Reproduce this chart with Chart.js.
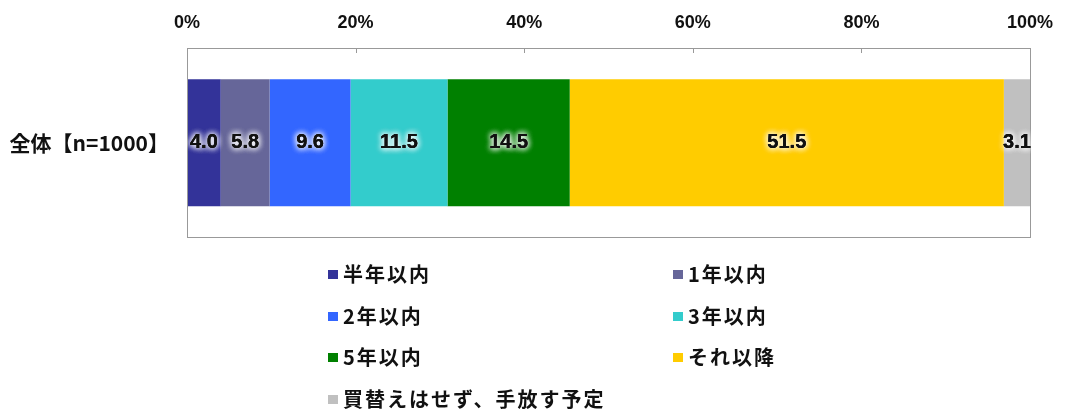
<!DOCTYPE html>
<html><head><meta charset="utf-8">
<script src="https://cdn.jsdelivr.net/npm/chart.js@4/dist/chart.umd.min.js"></script>
<style>
html,body{margin:0;padding:0;background:#fff;}
#wrap{position:relative;width:1082px;height:412px;overflow:hidden;}
#c{position:absolute;left:0;top:0;}
#legend{position:absolute;left:0;top:0;width:1082px;height:412px;pointer-events:none;}
.li{position:absolute;height:22px;line-height:22px;font:bold 20px "Noto Sans CJK JP",sans-serif;letter-spacing:2px;color:#111;white-space:nowrap;}
.li span.m{display:inline-block;width:10px;height:9px;margin-right:5px;vertical-align:middle;position:relative;top:-2px;}
</style></head>
<body><div id="wrap"><canvas id="c" width="1082" height="268"></canvas><div id="legend"></div></div>
<script>
const categories = ['全体【n=1000】'];
const seriesNames = ['半年以内','1年以内','2年以内','3年以内','5年以内','それ以降','買替えはせず、手放す予定'];
const s1 = [4.0];
const s2 = [5.8];
const s3 = [9.6];
const s4 = [11.5];
const s5 = [14.5];
const s6 = [51.5];
const s7 = [3.1];
const seriesValues = [s1,s2,s3,s4,s5,s6,s7];
const colors = ['#333399','#666699','#3366FF','#33CCCC','#008000','#FFCC00','#C0C0C0'];
const tickValues = [0,20,40,60,80,100];

const boxPlugin = {
  id:'box',
  afterDatasetsDraw(chart){
    const {ctx, chartArea:a, scales:{x}} = chart;
    ctx.save();
    ctx.strokeStyle='#999';
    ctx.lineWidth=1;
    ctx.strokeRect(Math.round(a.left)+0.5, Math.round(a.top)+0.5, Math.round(a.right-a.left), Math.round(a.bottom-a.top));
    tickValues.forEach(v=>{
      if(v===0||v===100) return;
      const px = Math.round(x.getPixelForValue(v))+0.5;
      ctx.beginPath(); ctx.moveTo(px,a.top); ctx.lineTo(px,a.top+5); ctx.stroke();
    });
    ctx.font='bold 20px "Liberation Sans", Arial, sans-serif';
    ctx.textAlign='center'; ctx.textBaseline='middle';
    chart.data.datasets.forEach((ds,i)=>{
      const meta = chart.getDatasetMeta(i);
      meta.data.forEach((bar,j)=>{
        const v = ds.data[j];
        const cx = (bar.x + bar.base)/2;
        const cy = bar.y;
        const t = v.toFixed(1);
        ctx.shadowColor='rgba(255,255,255,1)';
        ctx.shadowBlur=6;
        ctx.fillStyle='#111';
        for(let k=0;k<3;k++) ctx.fillText(t,cx,cy);
        ctx.shadowBlur=0;
        ctx.fillText(t,cx,cy);
      });
    });
    ctx.restore();
  }
};

new Chart(document.getElementById('c'),{
  type:'bar',
  data:{
    labels:categories,
    datasets:seriesNames.map((n,i)=>({label:n,data:seriesValues[i],backgroundColor:colors[i],borderWidth:0,categoryPercentage:1,barPercentage:0.67}))
  },
  options:{
    indexAxis:'y',
    responsive:false,animation:false,
    layout:{padding:{left:0,right:52,top:0,bottom:12}},
    plugins:{legend:{display:false},tooltip:{enabled:false}},
    scales:{
      x:{position:'top',stacked:true,min:0,max:100,
        afterBuildTicks(s){s.ticks=tickValues.map(v=>({value:v}));},
        afterFit(s){s.height=48;},
        border:{display:false},grid:{display:false,drawTicks:false},
        ticks:{padding:14,color:'#111',font:{family:'"Liberation Sans", Arial, sans-serif',weight:'bold',size:18},callback:v=>v+'%'}},
      y:{stacked:true,
        afterFit(s){s.width=187;},
        border:{display:false},grid:{display:false,drawTicks:false},
        ticks:{padding:18,color:'#111',font:{family:'"Noto Sans CJK JP", sans-serif',weight:'bold',size:21}}}
    }
  },
  plugins:[boxPlugin]
});

const lg = document.getElementById('legend');
const colX=[328,673]; const rowY=[259,301,342,384];
seriesNames.forEach((n,i)=>{
  const d=document.createElement('div');
  d.className='li';
  d.style.left=colX[i%2]+'px';
  d.style.top=rowY[Math.floor(i/2)]+'px';
  d.innerHTML='<span class="m" style="background:'+colors[i]+'"></span>'+n;
  lg.appendChild(d);
});
</script></body></html>
